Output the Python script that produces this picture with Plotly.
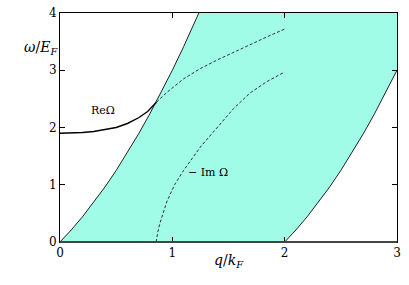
import plotly.graph_objects as go

# Continuum boundaries
upper_q = [0.0, 0.1, 0.2, 0.3, 0.4, 0.5, 0.6, 0.7, 0.8, 0.9, 1.0, 1.1, 1.2, 1.236]
upper_w = [0.0, 0.21, 0.44, 0.69, 0.96, 1.25, 1.56, 1.89, 2.24, 2.61, 3.0, 3.41, 3.84, 4.0]
lower_q = [2.0, 2.1, 2.2, 2.3, 2.4, 2.5, 2.6, 2.7, 2.8, 2.9, 3.0]
lower_w = [0.0, 0.21, 0.44, 0.69, 0.96, 1.25, 1.56, 1.89, 2.24, 2.61, 3.0]

# Re Omega (solid, below continuum)
re_q = [0.0, 0.1, 0.2, 0.3, 0.4, 0.5, 0.6, 0.7, 0.78, 0.86]
re_w = [1.90, 1.903, 1.912, 1.93, 1.96, 2.00, 2.07, 2.17, 2.28, 2.445]
# Re Omega continuation inside continuum (dashed)
re2_q = [0.86, 0.95, 1.10, 1.25, 1.40, 1.55, 1.69, 1.85, 2.0]
re2_w = [2.445, 2.61, 2.85, 3.03, 3.18, 3.32, 3.45, 3.59, 3.72]
# -Im Omega (dashed)
im_q = [0.856, 0.87, 0.89, 0.92, 0.95, 1.02, 1.10, 1.25, 1.40, 1.545, 1.69, 1.84, 2.0]
im_w = [0.0, 0.17, 0.33, 0.53, 0.70, 1.00, 1.25, 1.66, 2.01, 2.33, 2.60, 2.80, 2.97]

xticks = [0, 1, 2, 3]
yticks = [0, 1, 2, 3, 4]

FILL = "rgb(160,252,230)"
FONT = "DejaVu Serif"

# polygon of continuum
poly_x = [0.0] + upper_q + [3.0] + lower_q[::-1] + [0.0]
poly_y = [0.0] + upper_w + [4.0] + lower_w[::-1] + [0.0]

fig = go.Figure()
fig.add_trace(go.Scatter(x=poly_x, y=poly_y, fill="toself", fillcolor=FILL,
                         line=dict(width=0), mode="lines", hoverinfo="skip"))
fig.add_trace(go.Scatter(x=upper_q, y=upper_w, mode="lines",
                         line=dict(color="#222", width=1)))
fig.add_trace(go.Scatter(x=lower_q, y=lower_w, mode="lines",
                         line=dict(color="#222", width=1)))
fig.add_trace(go.Scatter(x=re_q, y=re_w, mode="lines",
                         line=dict(color="black", width=1.4)))
fig.add_trace(go.Scatter(x=re2_q, y=re2_w, mode="lines",
                         line=dict(color="#333", width=1, dash="3px,2px")))
fig.add_trace(go.Scatter(x=im_q, y=im_w, mode="lines",
                         line=dict(color="#333", width=1, dash="3px,2px")))

axis_common = dict(showgrid=False, zeroline=False, ticks="inside", ticklen=5,
                   tickcolor="black", showline=True, linecolor="black",
                   linewidth=1, mirror="allticks", ticklabeloverflow="allow",
                   tickfont=dict(family=FONT, size=12, color="black"))
fig.update_xaxes(range=[0, 3], tickvals=xticks,
                 ticktext=[str(t) for t in xticks], **axis_common)
fig.update_yaxes(range=[0, 4], tickvals=yticks,
                 ticktext=[str(t) for t in yticks], **axis_common)

fig.add_shape(type="line", xref="paper", yref="paper", x0=0, x1=1, y0=0, y1=0,
              line=dict(color="#444", width=2))

fig.add_annotation(x=0.38, y=2.30, text="ReΩ", showarrow=False,
                   font=dict(family=FONT, size=11, color="black"))
fig.add_annotation(x=1.32, y=1.22, text="− Im Ω", showarrow=False,
                   font=dict(family=FONT, size=11, color="black"))
fig.add_annotation(xref="paper", yref="paper", x=-0.113, y=0.896,
                   text="<i>ω</i>/<i>E</i><sub><i>F</i></sub>", showarrow=False,
                   font=dict(family=FONT, size=14, color="black"))
fig.add_annotation(xref="paper", yref="paper", x=0.5, y=-0.13,
                   text="<i>q</i>/<i>k</i><sub><i>F</i></sub>", showarrow=False,
                   font=dict(family=FONT, size=14, color="black"))

fig.update_layout(width=409, height=285, showlegend=False,
                  font=dict(family=FONT, color="black"),
                  margin=dict(l=60, r=12, t=6, b=43),
                  plot_bgcolor="white", paper_bgcolor="white")

fig.write_html("out.html", config={"displayModeBar": False},
               post_script="document.body.style.margin='0';document.body.style.padding='0';")
